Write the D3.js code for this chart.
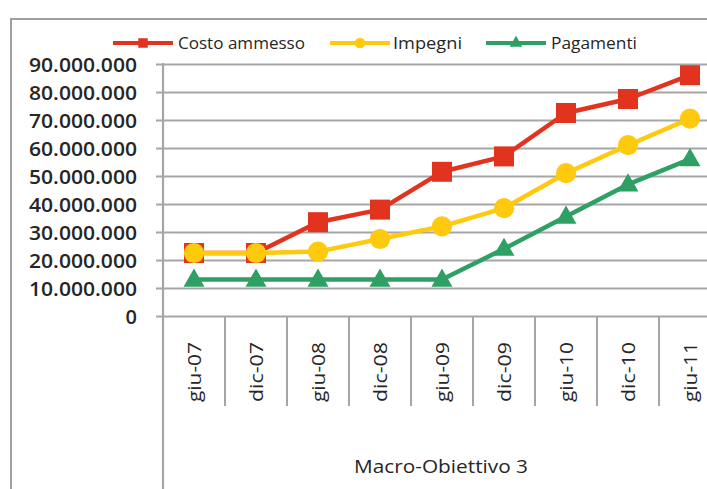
<!DOCTYPE html>
<html>
<head>
<meta charset="utf-8">
<script src="https://cdn.jsdelivr.net/npm/d3@7"></script>
<style>
  html, body { margin: 0; padding: 0; background: #fff; overflow: hidden; }
  svg { display: block; }
</style>
</head>
<body>
<script>
// Periods on the category axis
const categories = ["giu-07", "dic-07", "giu-08", "dic-08", "giu-09", "dic-09", "giu-10", "dic-10", "giu-11"];
// Series values (euro)
const costoAmmesso = [22500000, 22500000, 33500000, 38000000, 51500000, 57000000, 72500000, 77500000, 86000000];
const impegni      = [22500000, 22500000, 23000000, 27500000, 32000000, 38500000, 51000000, 61000000, 70500000];
const pagamenti    = [13000000, 13000000, 13000000, 13000000, 13000000, 24000000, 35500000, 47000000, 56000000];
const seriesNames = ["Costo ammesso", "Impegni", "Pagamenti"];
const yTicks = [0, 10000000, 20000000, 30000000, 40000000, 50000000, 60000000, 70000000, 80000000, 90000000];
const groupLabel = "Macro-Obiettivo 3";

const W = 707, H = 489;
const svg = d3.select("body").append("svg").attr("width", W).attr("height", H);

const font = "'Open Sans', sans-serif";
const textColor = "#262626";
const gridColor = "#a6a6a6";

// Outer chart frame
svg.append("rect")
  .attr("x", 11).attr("y", 19).attr("width", 760).attr("height", 520)
  .attr("fill", "none").attr("stroke", "#a0a0a0").attr("stroke-width", 2);

const plotLeft = 163, plotRight = 721, plotTop = 64, plotBottom = 316;

const x = d3.scaleBand().domain(categories).range([plotLeft, plotRight]);
const y = d3.scaleLinear().domain([0, 90000000]).range([plotBottom, plotTop]);

const fmt = v => d3.format(",")(v).replace(/,/g, ".");

// Horizontal gridlines with tick labels
const yAxis = d3.axisLeft(y)
  .tickValues(yTicks)
  .tickFormat(fmt)
  .tickSize(-(plotRight - plotLeft))
  .tickPadding(20);
const gy = svg.append("g").attr("transform", `translate(${plotLeft},0)`).call(yAxis);
gy.select(".domain").remove();
gy.selectAll(".tick line")
  .attr("x1", -7)
  .attr("stroke", gridColor).attr("stroke-width", 2.2);
gy.selectAll(".tick text")
  .attr("x", -26)
  .attr("font-family", font).attr("font-size", 20).attr("font-weight", 600).attr("fill", textColor)
  .attr("dy", "0.36em")
  .each(function (d) {
    if (d !== 0) d3.select(this).attr("textLength", 108).attr("lengthAdjust", "spacingAndGlyphs");
  });

// Vertical value axis line, running down through the category area
svg.append("line")
  .attr("x1", plotLeft).attr("x2", plotLeft)
  .attr("y1", plotTop - 1).attr("y2", H + 5)
  .attr("stroke", gridColor).attr("stroke-width", 2.2);

// Category separators below the baseline
const sepY2 = 406;
svg.append("g").selectAll("line")
  .data(categories.slice(1))
  .join("line")
  .attr("x1", d => x(d)).attr("x2", d => x(d))
  .attr("y1", plotBottom).attr("y2", sepY2)
  .attr("stroke", gridColor).attr("stroke-width", 2);
svg.append("line")
  .attr("x1", plotRight).attr("x2", plotRight)
  .attr("y1", plotBottom).attr("y2", sepY2)
  .attr("stroke", gridColor).attr("stroke-width", 2);

// Rotated category labels
svg.append("g").selectAll("text")
  .data(categories)
  .join("text")
  .attr("transform", d => `translate(${x(d) + x.bandwidth() / 2 + 7},342) rotate(-90)`)
  .attr("text-anchor", "end")
  .attr("font-family", font).attr("font-size", 19).attr("font-weight", 500).attr("fill", textColor)
  .attr("textLength", 60).attr("lengthAdjust", "spacingAndGlyphs")
  .text(d => d);

// Group label
svg.append("text")
  .attr("x", 441).attr("y", 473)
  .attr("text-anchor", "middle")
  .attr("font-family", font).attr("font-size", 18).attr("font-weight", 500).attr("fill", textColor)
  .attr("textLength", 174).attr("lengthAdjust", "spacingAndGlyphs")
  .text(groupLabel);

const colors = ["#e2331f", "#ffc90e", "#2ea063"];
const data = [costoAmmesso, impegni, pagamenti];
const line = d3.line().x((d, i) => x(categories[i]) + x.bandwidth() / 2).y(d => y(d));

const markerSquare = d3.symbol().type(d3.symbolSquare).size(400);
const markerCircle = d3.symbol().type(d3.symbolCircle).size(320);
const markerTriangle = d3.symbol().type(d3.symbolTriangle).size(190);
const markers = [markerSquare, markerCircle, markerTriangle];

data.forEach((vals, s) => {
  const g = svg.append("g");
  g.append("path")
    .datum(vals)
    .attr("d", line)
    .attr("fill", "none")
    .attr("stroke", colors[s]).attr("stroke-width", 4.5)
    .attr("stroke-linejoin", "round");
  g.selectAll("path.m")
    .data(vals)
    .join("path")
    .attr("class", "m")
    .attr("transform", (d, i) => `translate(${x(categories[i]) + x.bandwidth() / 2},${y(d) + (s === 2 ? 1 : 0)})`)
    .attr("d", markers[s]())
    .attr("fill", colors[s]);
});

// Legend
const legendItems = [
  { lx: 113, tx: 178, w: 127 },
  { lx: 330, tx: 393, w: 69 },
  { lx: 486, tx: 551, w: 86 }
];
const ly = 43;
legendItems.forEach((it, s) => {
  const g = svg.append("g");
  g.append("line")
    .attr("x1", it.lx).attr("x2", it.lx + 60)
    .attr("y1", ly).attr("y2", ly)
    .attr("stroke", colors[s]).attr("stroke-width", 4);
  const sym = [d3.symbol().type(d3.symbolSquare).size(90),
               d3.symbol().type(d3.symbolCircle).size(90),
               d3.symbol().type(d3.symbolTriangle).size(70)][s];
  g.append("path")
    .attr("transform", `translate(${it.lx + 30},${ly})`)
    .attr("d", sym())
    .attr("fill", colors[s]);
  g.append("text")
    .attr("x", it.tx).attr("y", ly + 6)
    .attr("font-family", font).attr("font-size", 17).attr("font-weight", 500).attr("fill", textColor)
    .attr("textLength", it.w).attr("lengthAdjust", "spacingAndGlyphs")
    .text(seriesNames[s]);
});
</script>
</body>
</html>
